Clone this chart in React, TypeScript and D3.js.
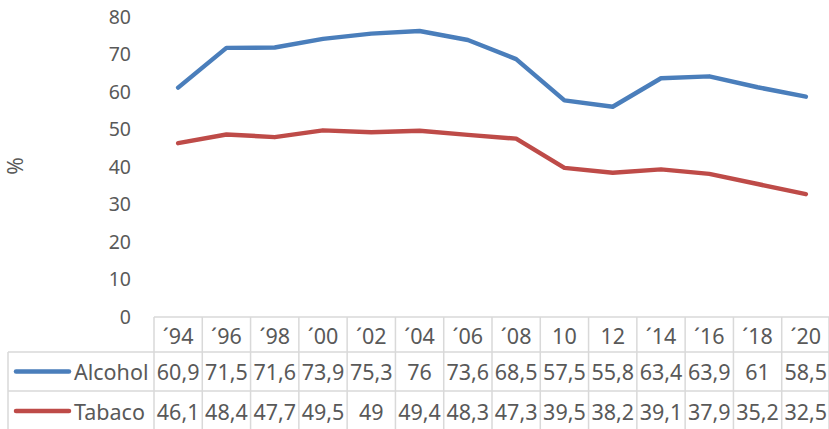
import React from "react";
import * as d3 from "d3";

const categories = ["´94", "´96", "´98", "´00", "´02", "´04", "´06", "´08", "10", "12", "´14", "´16", "´18", "´20"];
const alcohol = [60.9, 71.5, 71.6, 73.9, 75.3, 76, 73.6, 68.5, 57.5, 55.8, 63.4, 63.9, 61, 58.5];
const tabaco = [46.1, 48.4, 47.7, 49.5, 49, 49.4, 48.3, 47.3, 39.5, 38.2, 39.1, 37.9, 35.2, 32.5];
const yTicks = [0, 10, 20, 30, 40, 50, 60, 70, 80];
const seriesNames = ["Alcohol", "Tabaco"];

const fmt = (v: number) => String(v).replace(".", ",");

export default function App() {
  const W = 829, H = 429;
  const tableLeft = 154, tableRight = 830;
  const x = d3.scaleBand<string>().domain(categories).range([tableLeft, tableRight]);
  const y = d3.scaleLinear().domain([0, 80]).range([316, 16]);
  const colors = ["#4a7ebb", "#be4b48"];
  const series = [alcohol, tabaco];
  const line = d3.line<number>()
    .x((_, i) => (x(categories[i]) as number) + x.bandwidth() / 2)
    .y((d) => y(d));
  const font = "'Noto Sans', 'Open Sans', sans-serif";
  const textColor = "#595959";
  const gridColor = "#d9d9d9";
  const headerTop = 317, row1Top = 352, row2Top = 391, bottom = 440;
  const rowTops = [row1Top, row2Top];
  const rowH = [row2Top - row1Top, 429 - row2Top + 2];
  const tfs = 21.5;
  return (
    <svg width={W} height={H} style={{ position: "absolute", left: 0, top: 0 }} fontFamily={font}>
      <rect width={W} height={H} fill="#fff" />
      {yTicks.map((t) => (
        <text key={t} x={131} y={y(t)} textAnchor="end" dominantBaseline="central" fontSize={19.5} fill={textColor}>{t}</text>
      ))}
      <text transform={`translate(15,166) rotate(-90)`} textAnchor="middle" dominantBaseline="central" fontSize={21} fill={textColor}>%</text>
      {/* table grid */}
      <g stroke={gridColor} strokeWidth={1.5} fill="none">
        <line x1={tableLeft} x2={tableRight} y1={headerTop} y2={headerTop} />
        <line x1={8} x2={tableRight} y1={row1Top} y2={row1Top} />
        <line x1={8} x2={tableRight} y1={row2Top} y2={row2Top} />
        <line x1={8} x2={8} y1={row1Top} y2={bottom} />
        {categories.map((c) => (
          <line key={c} x1={x(c)} x2={x(c)} y1={headerTop} y2={bottom} />
        ))}
        <line x1={tableRight - 1} x2={tableRight - 1} y1={headerTop} y2={bottom} />
      </g>
      {categories.map((c) => (
        <text key={c} x={(x(c) as number) + x.bandwidth() / 2} y={(headerTop + row1Top) / 2 + 1} textAnchor="middle" dominantBaseline="central" fontSize={tfs} fill={textColor}>{c}</text>
      ))}
      {series.map((s, si) => (
        <g key={si}>
          <line x1={16} x2={69} y1={rowTops[si] + rowH[si] / 2} y2={rowTops[si] + rowH[si] / 2} stroke={colors[si]} strokeWidth={4.5} strokeLinecap="round" />
          <text x={74} y={rowTops[si] + rowH[si] / 2} dominantBaseline="central" fontSize={tfs} fill={textColor}>{seriesNames[si]}</text>
          {s.map((v, i) => (
            <text key={i} x={(x(categories[i]) as number) + x.bandwidth() / 2} y={rowTops[si] + rowH[si] / 2} textAnchor="middle" dominantBaseline="central" fontSize={tfs} fill={textColor}>{fmt(v)}</text>
          ))}
        </g>
      ))}
      {series.map((s, si) => (
        <path key={si} d={line(s) as string} fill="none" stroke={colors[si]} strokeWidth={4.5} strokeLinecap="round" strokeLinejoin="round" />
      ))}
    </svg>
  );
}
